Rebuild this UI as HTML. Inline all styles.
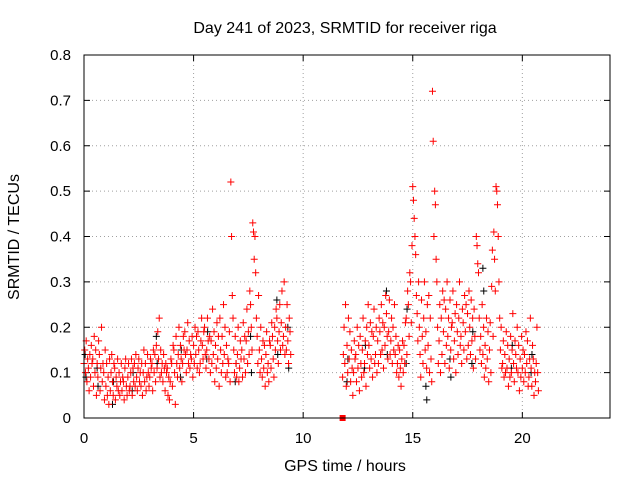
<!DOCTYPE html>
<html><head><meta charset="utf-8"><style>
html,body{margin:0;padding:0;background:#fff}
svg{display:block;font-family:"Liberation Sans",sans-serif}
</style></head><body>
<svg id="chart" width="640" height="480">
<text x="345" y="33" text-anchor="middle" font-size="16">Day 241 of 2023, SRMTID for receiver riga</text>
<text x="345" y="471" text-anchor="middle" font-size="16">GPS time / hours</text>
<text transform="translate(19,237) rotate(-90)" text-anchor="middle" font-size="16">SRMTID / TECUs</text>
<g id="grid"></g><g id="ticks"></g><g id="marks"></g>
<rect x="84" y="55" width="526" height="363" fill="none" stroke="#000" stroke-width="1"/>
</svg>
<script>
const xTicks=[0,5,10,15,20];
const yTicks=[0,0.1,0.2,0.3,0.4,0.5,0.6,0.7,0.8];
const yTickLabels=["0","0.1","0.2","0.3","0.4","0.5","0.6","0.7","0.8"];
const redTimes=[0.0,0.1,0.2,0.3,0.4,0.5,0.6,0.7,0.8,0.9,1.0,1.1,1.2,1.3,1.4,1.5,1.6,1.7,1.8,1.9,2.0,2.1,2.2,2.3,2.4,2.5,2.6,2.7,2.8,2.9,3.0,3.1,3.2,3.3,3.4,3.5,3.6,3.7,3.8,3.9,4.0,4.1,4.2,4.3,4.4,4.5,4.6,4.7,4.8,4.9,5.0,5.1,5.2,5.3,5.4,5.5,5.6,5.7,5.8,5.9,6.0,6.1,6.2,6.3,6.4,6.5,6.6,6.7,6.8,6.9,7.0,7.1,7.2,7.3,7.4,7.5,7.6,7.7,7.8,7.9,8.0,8.1,8.2,8.3,8.4,8.5,8.6,8.7,8.8,8.9,9.0,9.1,9.2,9.3,9.4,
11.8,11.9,12.0,12.1,12.2,12.3,12.4,12.5,12.6,12.7,12.8,12.9,13.0,13.1,13.2,13.3,13.4,13.5,13.6,13.7,13.8,13.9,14.0,14.1,14.2,14.3,14.4,14.5,14.6,14.7,14.8,14.9,15.0,15.1,15.2,15.3,15.4,15.5,15.6,15.7,15.8,15.9,16.0,16.1,16.2,16.3,16.4,16.5,16.6,16.7,16.8,16.9,17.0,17.1,17.2,17.3,17.4,17.5,17.6,17.7,17.8,17.9,18.0,18.1,18.2,18.3,18.4,18.5,18.6,18.7,18.8,18.9,19.0,19.1,19.2,19.3,19.4,19.5,19.6,19.7,19.8,19.9,20.0,20.1,20.2,20.3,20.4,20.5,20.6,20.7];
const redValues=[[.12,.15,.10],[.17,.08,.13],[.11,.06,.14],[.09,.16,.12],[.13,.07,.18],[.10,.15,.05],[.12,.09,.17],[.14,.06,.11],[.20,.08,.12],[.10,.04,.15],[.07,.12,.05],[.09,.03,.13],[.06,.10,.14],[.08,.05,.12],[.11,.04,.09],[.07,.13,.06],[.10,.05,.08],[.12,.06,.09],[.08,.04,.11],[.13,.07,.05],[.09,.12,.06],[.07,.10,.13],[.05,.11,.08],[.12,.07,.14],[.09,.06,.11],[.13,.08,.10],[.07,.12,.05],[.10,.15,.08],[.12,.06,.09],[.14,.10,.07],[.09,.13,.11],[.12,.06,.15],[.10,.14,.08],[.16,.11,.19],[.13,.22,.09],[.15,.10,.12],[.08,.14,.11],[.06,.12,.10],[.11,.05,.09],[.04,.08,.13],[.12,.07,.16],[.15,.10,.03],[.18,.12,.09],[.14,.20,.11],[.16,.13,.08],[.12,.18,.15],[.19,.14,.10],[.15,.21,.12],[.17,.11,.14],[.13,.18,.09],[.16,.12,.20],[.14,.18,.11],[.19,.15,.10],[.12,.17,.22],[.16,.13,.19],[.20,.14,.11],[.15,.22,.17],[.13,.18,.10],[.17,.12,.24],[.14,.19,.08],[.16,.11,.21],[.13,.18,.07],[.22,.15,.10],[.18,.12,.25],[.14,.20,.09],[.16,.10,.13],[.12,.19,.08],[.52,.40,.27],[.22,.15,.10],[.18,.12,.09],[.14,.20,.08],[.11,.17,.13],[.15,.09,.21],[.13,.18,.10],[.17,.24,.12],[.19,.14,.28],[.25,.20,.15],[.43,.41,.35],[.40,.32,.22],[.18,.12,.27],[.15,.10,.20],[.13,.09,.17],[.11,.16,.07],[.14,.19,.10],[.12,.08,.17],[.16,.11,.21],[.18,.13,.09],[.20,.15,.24],[.22,.17,.12],[.19,.25,.15],[.21,.28,.16],[.18,.30,.14],[.20,.15,.25],[.17,.12,.22],[.19,.14],
[.09,.14,.20],[.12,.25,.07],[.16,.10,.22],[.13,.19,.08],[.15,.11,.05],[.10,.17,.13],[.14,.08,.20],[.11,.16,.06],[.18,.12,.09],[.15,.22,.10],[.12,.17,.07],[.20,.14,.25],[.16,.11,.21],[.13,.19,.09],[.18,.24,.12],[.14,.20,.10],[.17,.12,.22],[.19,.14,.25],[.15,.21,.11],[.20,.16,.27],[.23,.18,.13],[.19,.26,.14],[.17,.22,.12],[.20,.15,.25],[.14,.18,.10],[.12,.16,.09],[.15,.11,.07],[.13,.17,.10],[.16,.12,.21],[.22,.14,.28],[.25,.18,.32],[.30,.21,.38],[.51,.48,.44],[.40,.36,.27],[.23,.17,.30],[.20,.14,.09],[.26,.18,.12],[.22,.30,.15],[.19,.11,.25],[.16,.27,.10],[.22,.13,.08],[.72,.61,.40],[.50,.47,.35],[.30,.20,.12],[.17,.25,.10],[.22,.14,.28],[.19,.26,.12],[.24,.16,.30],[.18,.22,.11],[.26,.15,.20],[.21,.28,.13],[.17,.23,.10],[.25,.19,.14],[.22,.30,.16],[.18,.12,.24],[.21,.15,.27],[.19,.25,.13],[.23,.16,.28],[.20,.14,.26],[.17,.22,.11],[.24,.18,.13],[.40,.38,.34],[.32,.22,.15],[.18,.12,.25],[.14,.20,.09],[.16,.11,.22],[.13,.19,.08],[.15,.21,.10],[.29,.37,.18],[.41,.35,.28],[.51,.50,.47],[.40,.30,.22],[.15,.20,.11],[.12,.17,.09],[.14,.10,.19],[.11,.16,.07],[.13,.09,.18],[.10,.15,.23],[.12,.08,.17],[.14,.11,.20],[.10,.16,.06],[.13,.09,.18],[.11,.15,.08],[.14,.10,.19],[.12,.17,.07],[.09,.13,.22],[.11,.07,.16],[.13,.05,.10],[.08,.12,.20],[.10,.06]];
const blackTimes=[0.05,0.6,1.3,2.2,3.3,4.4,5.6,6.9,7.6,8.8,9.3,12.0,12.8,13.8,14.7,15.6,16.7,17.7,18.2,19.5,20.4];
const blackValues=[[.14,.09],[.11,.07],[.03,.08],[.06,.10],[.18,.12],[.09,.15],[.13,.19],[.08,.12],[.18,.10],[.26,.14],[.20,.11],[.08,.13],[.11,.16],[.28,.14],[.12,.24],[.07,.04],[.13,.09],[.12,.19],[.33,.28],[.11,.16],[.10,.14]];
const squareTimes=[11.8];
const squareValues=[0];

const X0=84,X1=610,Y0=418,Y1=55,XMAX=24,YMAX=0.8;
function xs(t){return X0+(t/XMAX)*(X1-X0);}
function ys(v){return Y0-(v/YMAX)*(Y0-Y1);}
const NS="http://www.w3.org/2000/svg";
const grid=document.getElementById('grid'),ticks=document.getElementById('ticks'),marks=document.getElementById('marks');
function mk(tag,attrs,parent){const e=document.createElementNS(NS,tag);for(const k in attrs)e.setAttribute(k,attrs[k]);parent.appendChild(e);return e;}
xTicks.forEach(function(t){
  const x=xs(t);
  if(t>0){const g=mk('line',{x1:x,y1:Y0,x2:x,y2:Y1,stroke:'#a0a0a0','stroke-dasharray':'1,3'},grid);
  
  }
  mk('line',{x1:x,y1:Y0,x2:x,y2:Y0-6,stroke:'#000'},ticks);
  mk('line',{x1:x,y1:Y1,x2:x,y2:Y1+6,stroke:'#000'},ticks);
  const l=mk('text',{x:x,y:Y0+25,'text-anchor':'middle','font-size':15},ticks);l.textContent=t;
  
  
});
yTicks.forEach(function(v,i){
  const y=ys(v);
  if(v>0&&v<YMAX){const g=mk('line',{x1:X0,y1:y,x2:X1,y2:y,stroke:'#a0a0a0','stroke-dasharray':'1,3'},grid);
  
  }
  mk('line',{x1:X0,y1:y,x2:X0+6,y2:y,stroke:'#000'},ticks);
  mk('line',{x1:X1,y1:y,x2:X1-6,y2:y,stroke:'#000'},ticks);
  const l=mk('text',{x:X0-13,y:y+5,'text-anchor':'end','font-size':15},ticks);l.textContent=yTickLabels[i];
  
  
});
function plus(t,v,color){
  const x=xs(t),y=ys(v);
  const p=mk('path',{d:'M'+(x-3.5)+' '+y+'H'+(x+3.5)+'M'+x+' '+(y-3.5)+'V'+(y+3.5),stroke:color,'stroke-width':1,fill:'none'},marks);
  return p;
}
blackTimes.forEach(function(t,i){blackValues[i].forEach(function(v,k){
  const p=plus(t+k*0.04,v,'#000');
  
  
});});
redTimes.forEach(function(t,i){redValues[i].forEach(function(v,k){
  const p=plus(t+k*0.033,v,'#ff0000');
  
  
});});
squareTimes.forEach(function(t,i){
  const r=mk('rect',{x:xs(t)-3,y:ys(squareValues[i])-3,width:6,height:6,fill:'#ff0000'},marks);
  
  
});
</script>
</body></html>
